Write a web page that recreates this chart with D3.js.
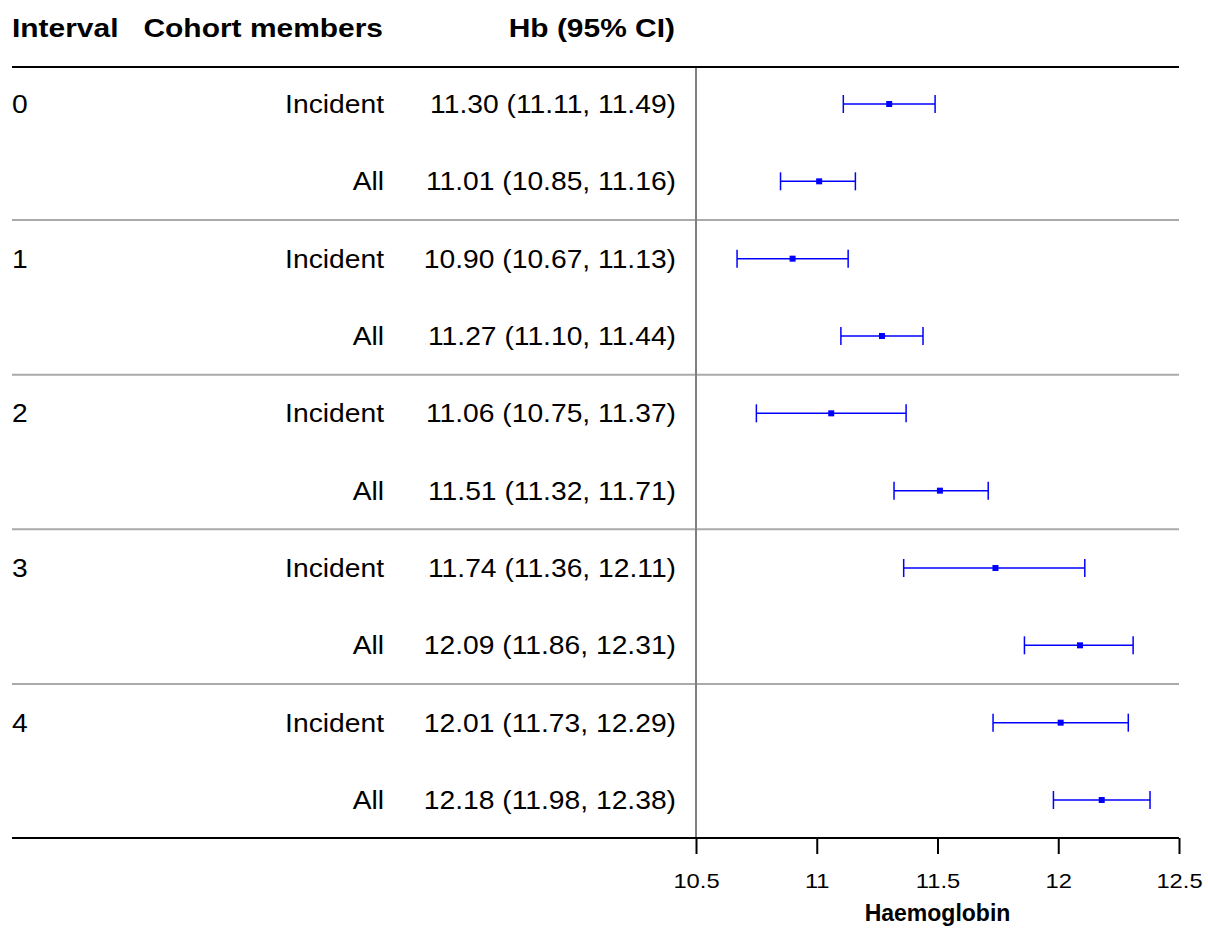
<!DOCTYPE html>
<html>
<head>
<meta charset="utf-8">
<script src="https://cdn.jsdelivr.net/npm/d3@7"></script>
<style>
  body { margin: 0; background: #fff; }
  svg { font-family: "Liberation Sans", Arial, Helvetica, sans-serif; }
</style>
</head>
<body>
<div id="chart"></div>
<script>
// data
var intervals = ["0", "0", "1", "1", "2", "2", "3", "3", "4", "4"];
var cohorts = ["Incident", "All", "Incident", "All", "Incident", "All", "Incident", "All", "Incident", "All"];
var means = [11.30, 11.01, 10.90, 11.27, 11.06, 11.51, 11.74, 12.09, 12.01, 12.18];
var lower = [11.11, 10.85, 10.67, 11.10, 10.75, 11.32, 11.36, 11.86, 11.73, 11.98];
var upper = [11.49, 11.16, 11.13, 11.44, 11.37, 11.71, 12.11, 12.31, 12.29, 12.38];
var xTicks = [10.5, 11, 11.5, 12, 12.5];

var W = 1208, H = 928;
var left = 12, right = 1179;
var topLine = 67, bottomLine = 838;
var stretch = 1.13;   // reference text is a bit wide

var svg = d3.select("#chart").append("svg")
    .attr("width", W).attr("height", H);

// scales
var x = d3.scaleLinear().domain([10.5, 12.5]).range([696, 1179]);
var y = d3.scalePoint().domain(d3.range(means.length)).range([104, 800]);
var step = y.step();

// helper: text stretched horizontally around its anchor point
function label(g, tx, ty, txt, anchor, size, bold) {
    g.append("text")
        .attr("transform", "translate(" + tx + "," + ty + ") scale(" + stretch + ",1)")
        .attr("text-anchor", anchor)
        .attr("font-size", size)
        .attr("font-weight", bold ? "bold" : "normal")
        .text(txt);
}

// header
var head = svg.append("g");
label(head, left, 37, "Interval", "start", 26.5, true);
label(head, 383, 37, "Cohort members", "end", 26.5, true);
label(head, 675, 37, "Hb (95% CI)", "end", 26.5, true);

// group separators (between intervals)
var seps = [];
for (var i = 1; i < means.length; i++) {
    if (intervals[i] != intervals[i - 1]) seps.push(i);
}
svg.selectAll(".sep").data(seps).enter().append("line")
    .attr("class", "sep")
    .attr("x1", left).attr("x2", right)
    .attr("y1", function(d) { return y(d) - step / 2; })
    .attr("y2", function(d) { return y(d) - step / 2; })
    .attr("stroke", "#aaaaaa").attr("stroke-width", 2);

// reference line
svg.append("line")
    .attr("x1", x(10.5)).attr("x2", x(10.5))
    .attr("y1", topLine).attr("y2", bottomLine)
    .attr("stroke", "#808080").attr("stroke-width", 2);

// top rule
svg.append("line").attr("x1", left).attr("x2", right)
    .attr("y1", topLine).attr("y2", topLine)
    .attr("stroke", "#000").attr("stroke-width", 2);

// row text
var rows = svg.append("g").attr("fill", "#000");
d3.range(means.length).forEach(function(d) {
    var ty = y(d) + 9;
    if (d == 0 || intervals[d] != intervals[d - 1]) {
        label(rows, left, ty, intervals[d], "start", 25, false);
    }
    label(rows, 384, ty, cohorts[d], "end", 25, false);
    label(rows, 676, ty,
        means[d].toFixed(2) + " (" + lower[d].toFixed(2) + ", " + upper[d].toFixed(2) + ")",
        "end", 25, false);
});

// error bars
var idx = d3.range(means.length);
var bars = svg.append("g").attr("stroke", "#0000ff").attr("stroke-width", 1.5);
bars.selectAll(".whisk").data(idx).enter().append("line")
    .attr("x1", function(d) { return x(lower[d]); })
    .attr("x2", function(d) { return x(upper[d]); })
    .attr("y1", function(d) { return y(d); })
    .attr("y2", function(d) { return y(d); });
bars.selectAll(".capl").data(idx).enter().append("line")
    .attr("x1", function(d) { return x(lower[d]); })
    .attr("x2", function(d) { return x(lower[d]); })
    .attr("y1", function(d) { return y(d) - 9; })
    .attr("y2", function(d) { return y(d) + 9; });
bars.selectAll(".capu").data(idx).enter().append("line")
    .attr("x1", function(d) { return x(upper[d]); })
    .attr("x2", function(d) { return x(upper[d]); })
    .attr("y1", function(d) { return y(d) - 9; })
    .attr("y2", function(d) { return y(d) + 9; });
svg.selectAll(".pt").data(idx).enter().append("rect")
    .attr("x", function(d) { return x(means[d]) - 3; })
    .attr("y", function(d) { return y(d) - 3; })
    .attr("width", 6).attr("height", 6)
    .attr("fill", "#0000ff");

// x axis
var axis = d3.axisBottom(x).tickValues(xTicks).tickSize(16).tickPadding(0)
    .tickFormat(function(d) { return String(d); });
var gx = svg.append("g").attr("transform", "translate(0," + bottomLine + ")").call(axis);
gx.select(".domain").remove();
gx.selectAll(".tick line").attr("stroke", "#000").attr("stroke-width", 2);
gx.selectAll(".tick text")
    .attr("font-size", 21).attr("fill", "#000")
    .attr("font-family", "Liberation Sans, Arial, sans-serif")
    .attr("dy", null)
    .attr("y", 50)
    .attr("transform", "scale(" + stretch + ",1)");
// keep the stretched tick labels centred on their ticks
gx.selectAll(".tick text").attr("x", 0);
svg.append("line").attr("x1", left).attr("x2", right)
    .attr("y1", bottomLine).attr("y2", bottomLine)
    .attr("stroke", "#000").attr("stroke-width", 2);

svg.append("text").attr("x", (x(10.5) + x(12.5)) / 2).attr("y", 921)
    .attr("text-anchor", "middle").attr("font-weight", "bold").attr("font-size", 23)
    .text("Haemoglobin");
</script>
</body>
</html>
